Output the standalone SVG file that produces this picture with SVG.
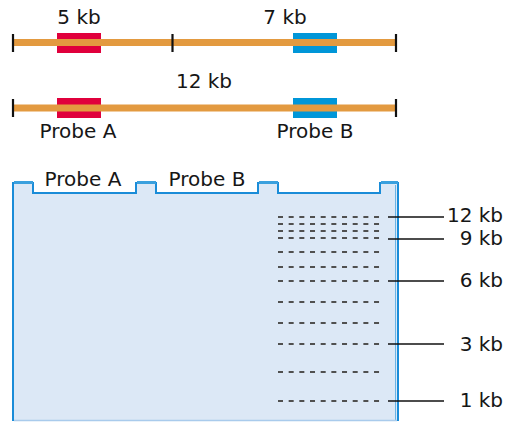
<svg xmlns="http://www.w3.org/2000/svg" width="507" height="422" viewBox="0 0 507 422">
<style>
  .t { font-family: "DejaVu Sans", "Liberation Sans", sans-serif; font-size: 20px; fill: #161616; }
  .mid { text-anchor: middle; }
  .end { text-anchor: end; }
  .dna { stroke: #e39a40; stroke-width: 7; fill: none; }
  .tick { stroke: #111; stroke-width: 2.2; }
  .pa { fill: #e0003c; }
  .pb { fill: #0096d8; }
  .band { stroke: #505050; stroke-width: 2.2; stroke-dasharray: 5 5.67; fill: none; }
  .lead { stroke: #111; stroke-width: 1.5; fill: none; }
  .edge { stroke: #1a8cd8; stroke-width: 2; fill: none; }
  .cap { fill: #3aa0de; }
</style>
<rect width="507" height="422" fill="#ffffff"/>

<g id="map-digest">
  <rect class="pa" x="57" y="33" width="44" height="20"/>
  <rect class="pb" x="293" y="33" width="44" height="20"/>
  <line class="dna" x1="13" y1="42.5" x2="396" y2="42.5"/>
  <line class="tick" x1="13" y1="34" x2="13" y2="52"/>
  <line class="tick" x1="172.5" y1="34" x2="172.5" y2="52"/>
  <line class="tick" x1="396" y1="34" x2="396" y2="52"/>
  <text class="t mid" x="79" y="24">5 kb</text>
  <text class="t mid" x="285" y="24">7 kb</text>
</g>

<g id="map-uncut">
  <rect class="pa" x="57" y="98" width="44" height="20"/>
  <rect class="pb" x="293" y="98" width="44" height="20"/>
  <line class="dna" x1="13" y1="108" x2="396" y2="108"/>
  <line class="tick" x1="13" y1="99" x2="13" y2="117"/>
  <line class="tick" x1="396" y1="99" x2="396" y2="117"/>
  <text class="t mid" x="204" y="88">12 kb</text>
  <text class="t mid" x="78" y="138">Probe A</text>
  <text class="t mid" x="315" y="138">Probe B</text>
</g>

<g id="gel">
  <path d="M13,421 V183 H33 V193 H136 V183 H156 V193 H258 V183 H278 V193 H380 V183 H398 V421 Z" fill="#dce8f6"/>
  <path class="edge" d="M13,421 V183 H33 V193 H136 V183 H156 V193 H258 V183 H278 V193 H380 V183 H398 V421"/>
  <rect class="cap" x="14" y="181" width="19" height="3"/>
  <rect class="cap" x="137" y="181" width="19" height="3"/>
  <rect class="cap" x="259" y="181" width="19" height="3"/>
  <rect class="cap" x="381" y="181" width="17" height="3"/>
  <line x1="395.5" y1="185" x2="395.5" y2="420" stroke="#6ab4e4" stroke-width="1"/>
  <line x1="14" y1="420.5" x2="397" y2="420.5" stroke="#a9cbec" stroke-width="1.5"/>
  <text class="t mid" x="83" y="186">Probe A</text>
  <text class="t mid" x="207" y="186">Probe B</text>
</g>

<g id="bands">
  <line class="band" x1="278" y1="217" x2="380" y2="217"/>
  <line class="band" x1="278" y1="224" x2="380" y2="224"/>
  <line class="band" x1="278" y1="231" x2="380" y2="231"/>
  <line class="band" x1="278" y1="238" x2="380" y2="238"/>
  <line class="band" x1="278" y1="252" x2="380" y2="252"/>
  <line class="band" x1="278" y1="267" x2="380" y2="267"/>
  <line class="band" x1="278" y1="281" x2="380" y2="281"/>
  <line class="band" x1="278" y1="302" x2="380" y2="302"/>
  <line class="band" x1="278" y1="323" x2="380" y2="323"/>
  <line class="band" x1="278" y1="344" x2="380" y2="344"/>
  <line class="band" x1="278" y1="372" x2="380" y2="372"/>
  <line class="band" x1="278" y1="401" x2="380" y2="401"/>
</g>

<g id="connectors">
  <line class="lead" x1="388" y1="217" x2="444" y2="217"/>
  <line class="lead" x1="388" y1="239" x2="444" y2="239"/>
  <line class="lead" x1="388" y1="281" x2="444" y2="281"/>
  <line class="lead" x1="388" y1="344" x2="444" y2="344"/>
  <line class="lead" x1="388" y1="401" x2="444" y2="401"/>
</g>

<g id="size-labels">
  <text class="t end" x="503" y="221.5">12 kb</text>
  <text class="t end" x="503" y="245">9 kb</text>
  <text class="t end" x="503" y="287">6 kb</text>
  <text class="t end" x="503" y="351">3 kb</text>
  <text class="t end" x="503" y="407">1 kb</text>
</g>
</svg>
